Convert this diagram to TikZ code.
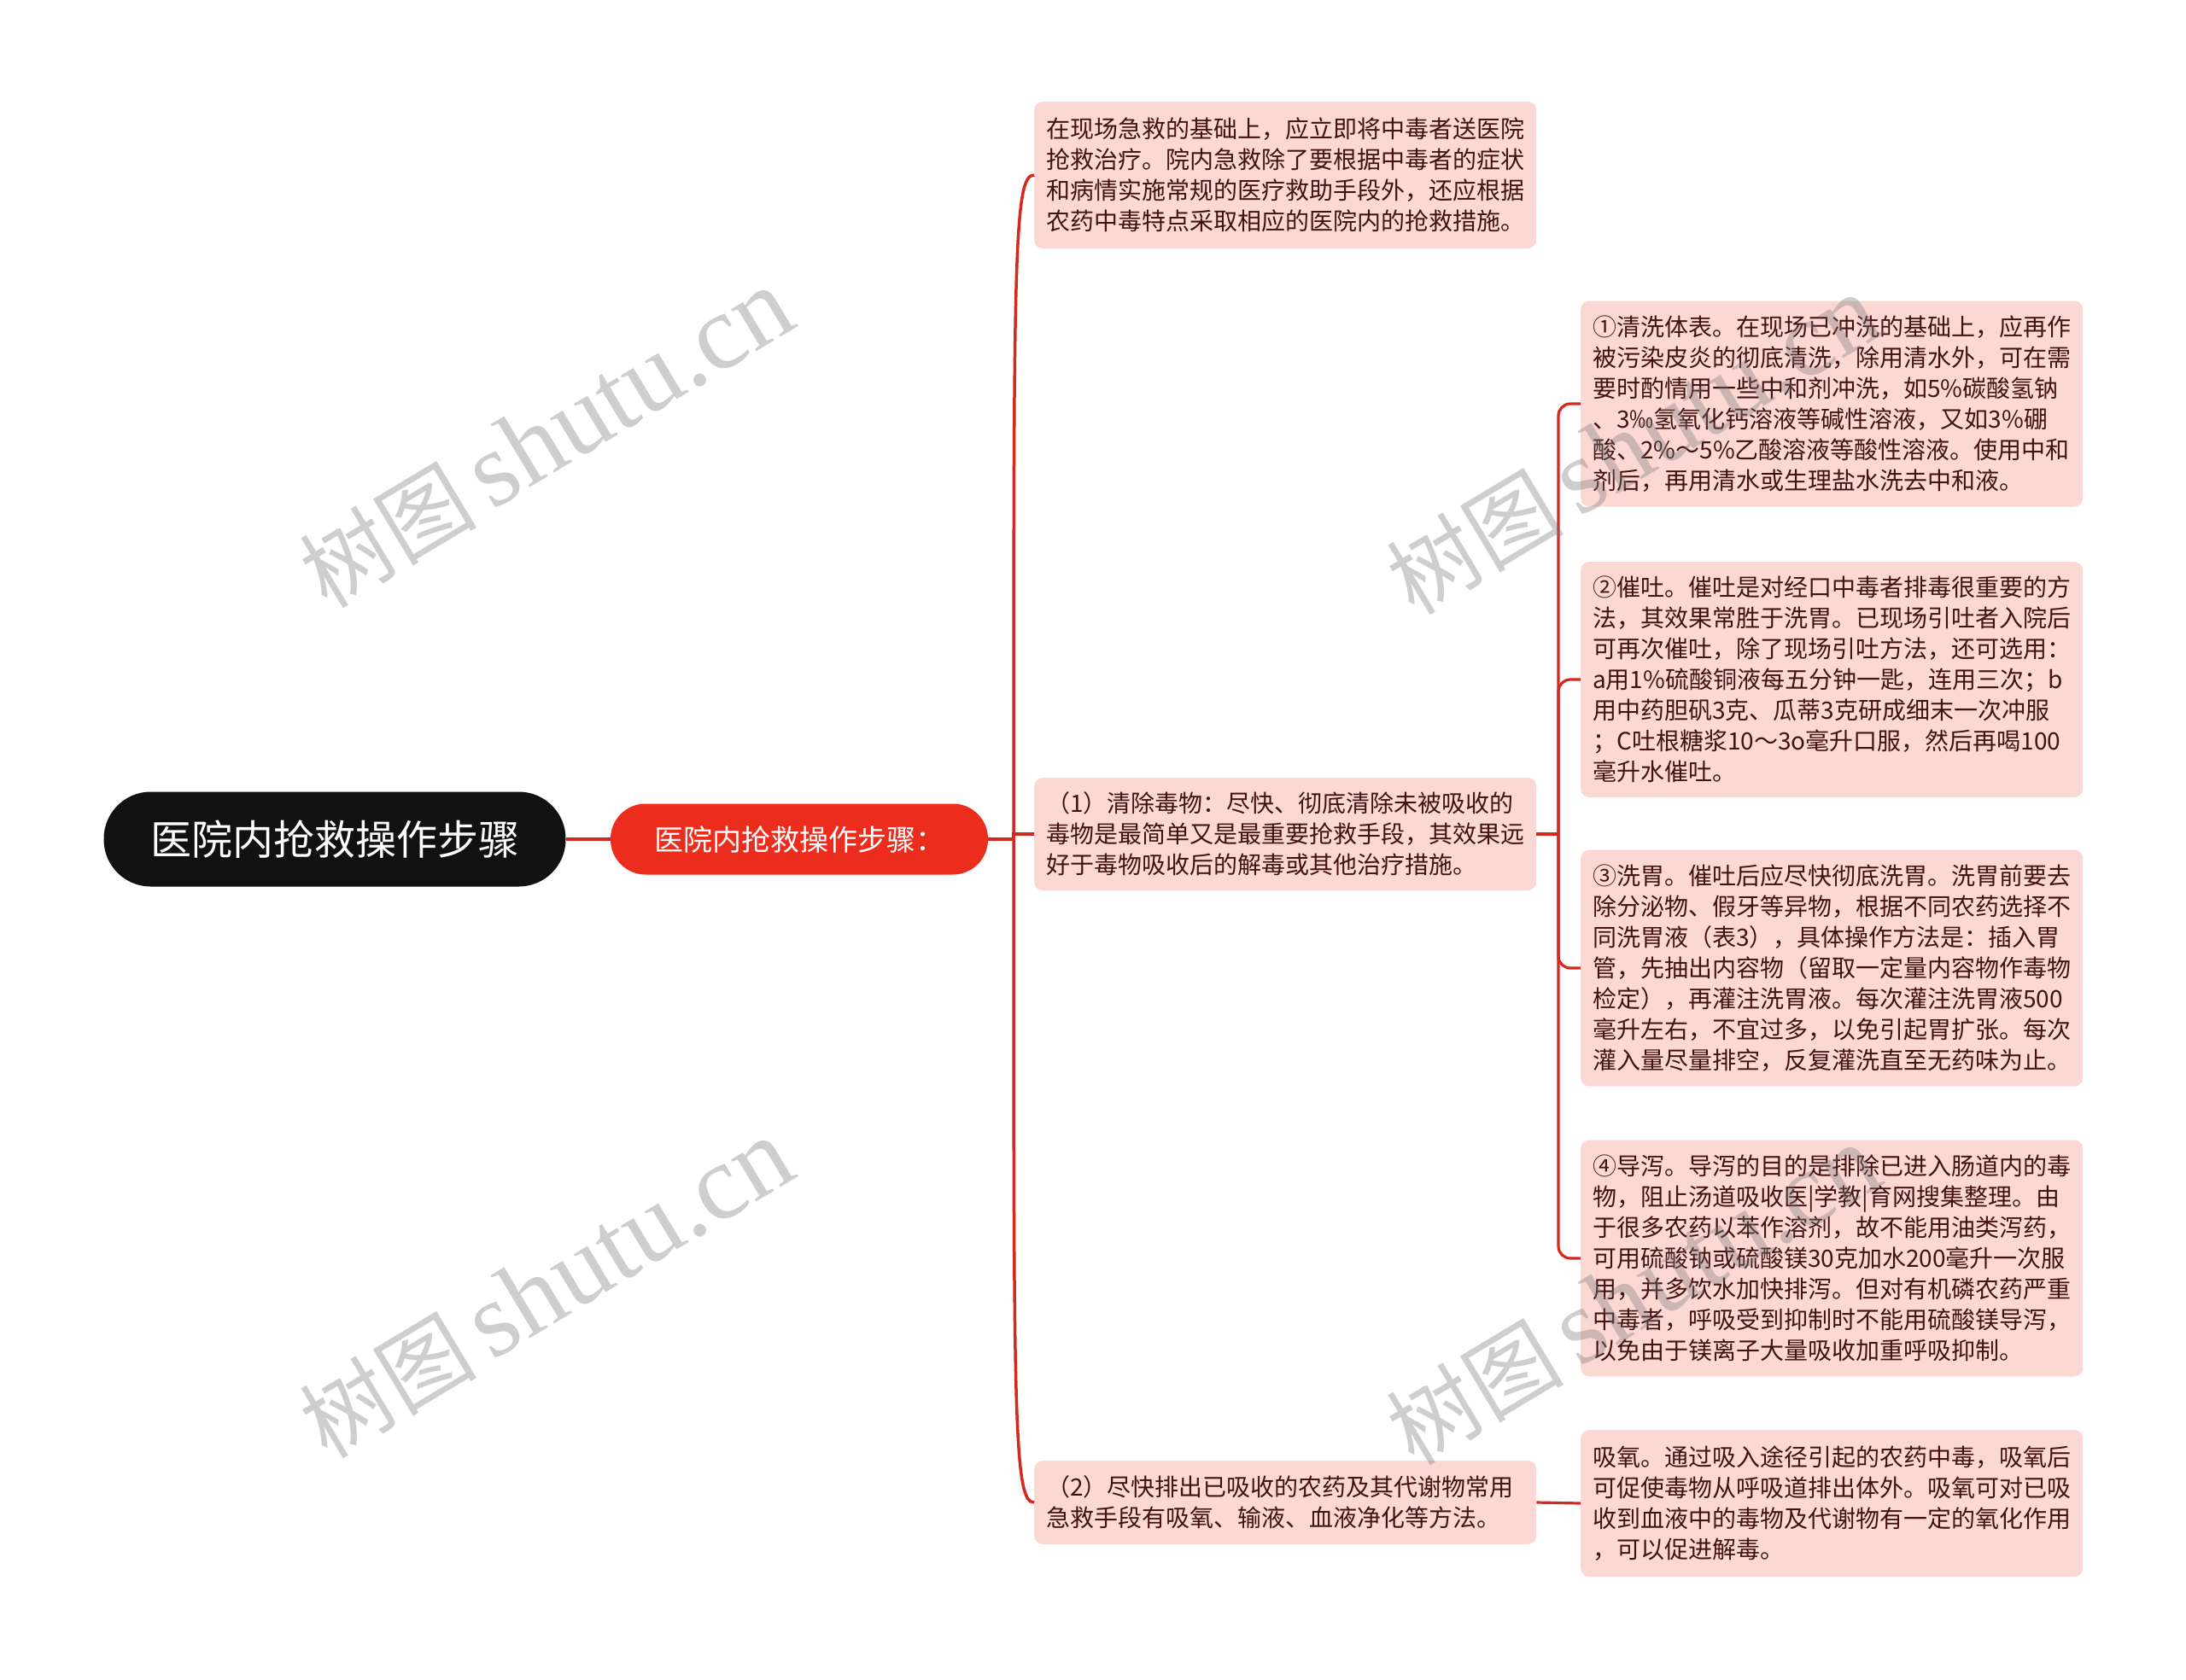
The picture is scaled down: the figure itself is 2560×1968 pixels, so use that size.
\documentclass[tikz,border=0pt]{standalone}
\usepackage{fontspec}
\setmainfont{Noto Sans CJK SC}
\newfontfamily\wmlatin{Liberation Serif}
\usetikzlibrary{calc}
\definecolor{boxpink}{RGB}{252,216,213}
\definecolor{txt}{RGB}{66,18,18}
\definecolor{conn}{RGB}{210,42,32}
\definecolor{lvlred}{RGB}{236,44,28}
\definecolor{rootblack}{RGB}{17,17,17}
\definecolor{wmgray}{RGB}{120,120,120}
\tikzset{
  leaf/.style={fill=boxpink, rounded corners=10pt, text=txt,
    font=\fontsize{28}{36}\selectfont, align=left, text width=560pt,
    inner xsep=14pt, inner ysep=0pt, anchor=west},
  conn/.style={draw=conn, line width=3.2pt},
  wmark/.style={text=wmgray, opacity=0.36, rotate=31, inner sep=0pt}
}
\begin{document}
\begin{tikzpicture}[x=1pt,y=-1pt]
\useasboundingbox (0,0) rectangle (2560,1968);
\fill[white] (0,0) rectangle (2560,1968);

% root and first level
\node[fill=rootblack, text=white, rounded corners=55pt, minimum width=541pt,
  minimum height=111pt, inner sep=0pt, font=\fontsize{48}{56}\selectfont]
  (root) at (392,983) {医院内抢救操作步骤};
\node[fill=lvlred, text=white, rounded corners=41pt, minimum width=442pt,
  minimum height=83pt, inner sep=0pt, font=\fontsize{34}{40}\selectfont]
  (l1) at (936,983) {医院内抢救操作步骤：};

% second level
\node[leaf, minimum height=172pt] (a) at (1211,205) {在现场急救的基础上，应立即将中毒者送医院\\抢救治疗。院内急救除了要根据中毒者的症状\\和病情实施常规的医疗救助手段外，还应根据\\农药中毒特点采取相应的医院内的抢救措施。};
\node[leaf, minimum height=132pt] (b) at (1211,977) {（1）清除毒物：尽快、彻底清除未被吸收的\\毒物是最简单又是最重要抢救手段，其效果远\\好于毒物吸收后的解毒或其他治疗措施。};
\node[leaf, minimum height=98pt] (c) at (1211,1760) {（2）尽快排出已吸收的农药及其代谢物常用\\急救手段有吸氧、输液、血液净化等方法。};

% third level
\node[leaf, minimum height=241pt] (s1) at (1851,473) {①清洗体表。在现场已冲洗的基础上，应再作\\被污染皮炎的彻底清洗，除用清水外，可在需\\要时酌情用一些中和剂冲洗，如5\%碳酸氢钠\\、3‰氢氧化钙溶液等碱性溶液，又如3\%硼\\酸、2\%～5\%乙酸溶液等酸性溶液。使用中和\\剂后，再用清水或生理盐水洗去中和液。};
\node[leaf, minimum height=276pt] (s2) at (1851,796) {②催吐。催吐是对经口中毒者排毒很重要的方\\法，其效果常胜于洗胃。已现场引吐者入院后\\可再次催吐，除了现场引吐方法，还可选用：\\a用1\%硫酸铜液每五分钟一匙，连用三次；b\\用中药胆矾3克、瓜蒂3克研成细末一次冲服\\；C吐根糖浆10～3o毫升口服，然后再喝100\\毫升水催吐。};
\node[leaf, minimum height=277pt] (s3) at (1851,1134) {③洗胃。催吐后应尽快彻底洗胃。洗胃前要去\\除分泌物、假牙等异物，根据不同农药选择不\\同洗胃液（表3），具体操作方法是：插入胃\\管，先抽出内容物（留取一定量内容物作毒物\\检定），再灌注洗胃液。每次灌注洗胃液500\\毫升左右，不宜过多，以免引起胃扩张。每次\\灌入量尽量排空，反复灌洗直至无药味为止。};
\node[leaf, minimum height=277pt] (s4) at (1851,1474) {④导泻。导泻的目的是排除已进入肠道内的毒\\物，阻止汤道吸收医|学教|育网搜集整理。由\\于很多农药以苯作溶剂，故不能用油类泻药，\\可用硫酸钠或硫酸镁30克加水200毫升一次服\\用，并多饮水加快排泻。但对有机磷农药严重\\中毒者，呼吸受到抑制时不能用硫酸镁导泻，\\以免由于镁离子大量吸收加重呼吸抑制。};
\node[leaf, minimum height=172pt] (ox) at (1851,1761) {吸氧。通过吸入途径引起的农药中毒，吸氧后\\可促使毒物从呼吸道排出体外。吸氧可对已吸\\收到血液中的毒物及代谢物有一定的氧化作用\\，可以促进解毒。};

% connectors
\coordinate (j1) at (1187,983);
\coordinate (j2) at (1825,977);
\draw[conn] (root.east) -- (l1.west);
\draw[conn] (l1.east) -- (j1);
\draw[conn, line width=3.5pt] (j1) .. controls (1187,300) and (1187,205) .. (a.west);
\draw[conn] (j1) |- (b.west);
\draw[conn, line width=3.5pt] (j1) .. controls (1187,1665) and (1187,1760) .. (c.west);
\draw[conn] (b.east) -- (j2);
\draw[conn, rounded corners=14pt] (j2) |- (s1.west);
\draw[conn, rounded corners=14pt] (j2) |- (s2.west);
\draw[conn, rounded corners=14pt] (j2) |- (s3.west);
\draw[conn, rounded corners=14pt] (j2) |- (s4.west);
\draw[conn] (c.east) -- (ox.west);

% watermarks
\node[wmark] (w1) at (640,514) {\fontsize{104}{110}\selectfont 树图\,{\wmlatin\fontsize{125}{130}\selectfont shutu.cn}};
\node[wmark] (w2) at (640,1510) {\fontsize{104}{110}\selectfont 树图\,{\wmlatin\fontsize{125}{130}\selectfont shutu.cn}};
\node[wmark] (w3) at (1913,522) {\fontsize{104}{110}\selectfont 树图\,{\wmlatin\fontsize{125}{130}\selectfont shutu.cn}};
\node[wmark] (w4) at (1913,1518) {\fontsize{104}{110}\selectfont 树图\,{\wmlatin\fontsize{125}{130}\selectfont shutu.cn}};
\end{tikzpicture}
\end{document}
